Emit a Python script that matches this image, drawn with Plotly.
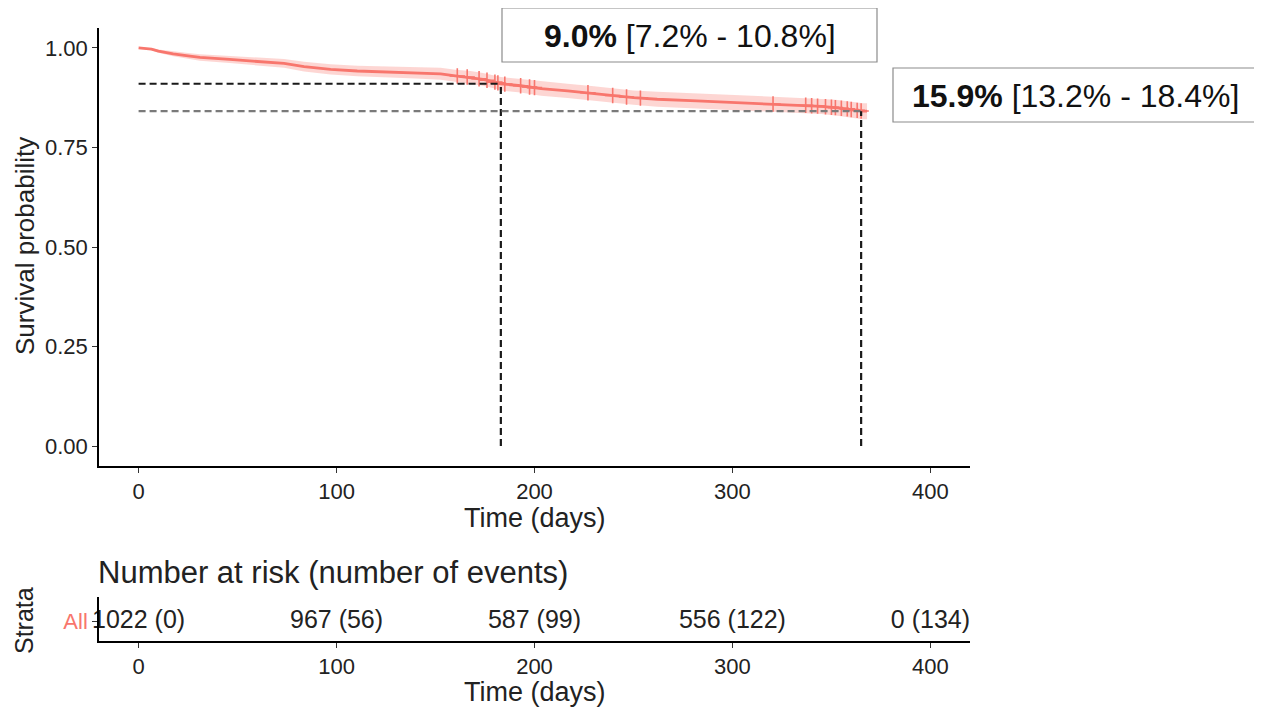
import numpy as np
import plotly.graph_objects as go

# ---------------- data ----------------
km_time = [0, 6.5, 10, 17.5, 25, 31, 46, 60, 73.5, 83.6, 97, 110.5, 125.6, 140, 152.6, 160, 167.7,
           174, 181, 183, 193, 203.3, 216.7, 230, 240, 250, 262, 282, 300, 320.6, 337, 345, 352,
           358, 363, 366, 368]
km_surv = [1.000, 0.997, 0.992, 0.985, 0.980, 0.976, 0.971, 0.965, 0.961, 0.953, 0.946, 0.942,
           0.939, 0.937, 0.935, 0.930, 0.926, 0.921, 0.913, 0.910, 0.905, 0.898, 0.892, 0.886,
           0.880, 0.875, 0.871, 0.867, 0.863, 0.859, 0.856, 0.853, 0.850, 0.847, 0.843, 0.841, 0.841]
km_lower = [1.000, 0.994, 0.988, 0.979, 0.973, 0.968, 0.962, 0.955, 0.950, 0.941, 0.933, 0.929,
            0.925, 0.923, 0.920, 0.915, 0.910, 0.905, 0.897, 0.893, 0.888, 0.880, 0.874, 0.868,
            0.862, 0.857, 0.852, 0.848, 0.844, 0.840, 0.837, 0.834, 0.830, 0.827, 0.823, 0.821, 0.821]
km_upper = [1.000, 1.000, 0.996, 0.991, 0.987, 0.984, 0.980, 0.975, 0.972, 0.965, 0.959, 0.955,
            0.953, 0.951, 0.950, 0.945, 0.942, 0.937, 0.929, 0.927, 0.922, 0.916, 0.910, 0.904,
            0.898, 0.893, 0.890, 0.886, 0.882, 0.878, 0.875, 0.872, 0.870, 0.867, 0.863, 0.861, 0.861]
censor_times = [161, 166, 172, 176, 180, 181.5, 185, 193, 197.5, 200, 227, 239.5, 246.5, 253.5,
                320.5, 337, 340, 343, 347, 350, 352, 355, 358, 360, 363, 365]

milestone_days = [183, 365]
cuminc_est = [9.0, 15.9]
cuminc_low = [7.2, 13.2]
cuminc_high = [10.8, 18.4]

risk_times = [0, 100, 200, 300, 400]
risk_n = [1022, 967, 587, 556, 0]
risk_events = [0, 56, 99, 122, 134]
strata_label = "All"

x_ticks = [0, 100, 200, 300, 400]
y_ticks = [0, 0.25, 0.5, 0.75, 1.0]

# ---------------- layout geometry (page has an 8px body margin) ----------------
OFF = 8
W, H = 1262 - OFF, 709 - OFF
L, T = 99 - OFF, 28 - OFF
R = W - (970 - OFF)
B = H - (641 - OFF)
PW, PH = W - L - R, H - T - B


def px_x(px):
    return (px - OFF - L) / PW


def px_y(py):
    return (H - B - (py - OFF)) / PH


RED = "#F8766D"
BAND = "rgba(248,118,109,0.30)"
FONT = "Liberation Sans, Arial, Helvetica, sans-serif"
TXT = "#222222"

fig = go.Figure()

# CI band
fig.add_trace(go.Scatter(x=km_time, y=km_lower, mode="lines", line=dict(width=0),
                         hoverinfo="skip", showlegend=False, xaxis="x", yaxis="y"))
fig.add_trace(go.Scatter(x=km_time, y=km_upper, mode="lines", line=dict(width=0),
                         fill="tonexty", fillcolor=BAND, hoverinfo="skip", showlegend=False,
                         xaxis="x", yaxis="y"))
# KM curve
fig.add_trace(go.Scatter(x=km_time, y=km_surv, mode="lines",
                         line=dict(color=RED, width=2.8),
                         showlegend=False, xaxis="x", yaxis="y"))
# censor marks placed on the curve
censor_surv = np.interp(censor_times, km_time, km_surv)
fig.add_trace(go.Scatter(x=censor_times, y=censor_surv, mode="markers",
                         marker=dict(symbol="cross-thin", size=11, line=dict(color=RED, width=1.6)),
                         showlegend=False, xaxis="x", yaxis="y"))

# risk table text
risk_text = [f"{n} ({e})" for n, e in zip(risk_n, risk_events)]
fig.add_trace(go.Scatter(x=risk_times, y=[strata_label] * len(risk_times), mode="text",
                         text=risk_text, textposition="middle center",
                         textfont=dict(family=FONT, size=25, color=TXT),
                         cliponaxis=False, showlegend=False, xaxis="x2", yaxis="y2"))

shapes = []
hcolors = ["#1a1a1a", "#7a7a7a"]
for d, ci, hc in zip(milestone_days, cuminc_est, hcolors):
    s = 1 - ci / 100
    shapes.append(dict(type="line", xref="x", yref="y", x0=0, x1=d, y0=s, y1=s,
                       line=dict(color=hc, width=2.2, dash="7px,4px")))
    shapes.append(dict(type="line", xref="x", yref="y", x0=d, x1=d, y0=0, y1=s,
                       line=dict(color="#1a1a1a", width=2.2, dash="7px,4px")))

# annotation boxes
box_px = [(502, 8, 877, 62), (893, 68, 1258, 122)]
annotations = []
for (bx0, by0, bx1, by1), e, lo, hi in zip(box_px, cuminc_est, cuminc_low, cuminc_high):
    shapes.append(dict(type="rect", xref="paper", yref="paper",
                       x0=px_x(bx0), x1=px_x(bx1), y0=px_y(by1), y1=px_y(by0),
                       line=dict(color="#8c8c8c", width=1.2), fillcolor="white", layer="above"))
    annotations.append(dict(xref="paper", yref="paper", x=px_x((bx0 + bx1) / 2),
                            y=px_y((by0 + by1) / 2 + 1), xanchor="center", yanchor="middle",
                            text=f"<b>{e:.1f}%</b> [{lo:.1f}% - {hi:.1f}%]", showarrow=False,
                            font=dict(family=FONT, size=32, color="#111111")))

# titles as annotations
annotations += [
    dict(xref="paper", yref="paper", x=px_x(25), y=px_y(246), text="Survival probability",
         textangle=-90, showarrow=False, xanchor="center", yanchor="middle",
         font=dict(family=FONT, size=26, color=TXT)),
    dict(xref="paper", yref="paper", x=px_x(535), y=px_y(518), text="Time (days)",
         showarrow=False, xanchor="center", yanchor="middle",
         font=dict(family=FONT, size=27, color=TXT)),
    dict(xref="paper", yref="paper", x=px_x(96), y=px_y(572),
         text="Number at risk (number of events)", showarrow=False, xanchor="left",
         yanchor="middle", font=dict(family=FONT, size=31, color=TXT)),
    dict(xref="paper", yref="paper", x=px_x(24), y=px_y(621), text="Strata",
         textangle=-90, showarrow=False, xanchor="center", yanchor="middle",
         font=dict(family=FONT, size=25, color=TXT)),
    dict(xref="paper", yref="paper", x=px_x(535), y=px_y(692), text="Time (days)",
         showarrow=False, xanchor="center", yanchor="middle",
         font=dict(family=FONT, size=27, color=TXT)),
]

axis_common = dict(showgrid=False, zeroline=False, showline=True, linecolor="black",
                   linewidth=1.6, ticks="outside", ticklen=5, tickwidth=1.3, tickcolor="#333333",
                   tickfont=dict(family=FONT, size=22, color=TXT))

fig.update_layout(
    width=W, height=H,
    margin=dict(l=L, r=R, t=T, b=B),
    paper_bgcolor="white", plot_bgcolor="white",
    showlegend=False,
    xaxis=dict(domain=[0, 1], range=[-20, 420], tickvals=x_ticks, anchor="y", **axis_common),
    yaxis=dict(domain=[px_y(466), 1], range=[-0.05, 1.05], tickvals=y_ticks, tickformat=".2f",
               anchor="x", **axis_common),
    xaxis2=dict(domain=[0, 1], range=[-20, 420], tickvals=x_ticks, anchor="y2", **axis_common),
    yaxis2=dict(domain=[0, px_y(597)], range=[-0.44, 0.56], type="category", anchor="x2",
                **{**axis_common, "tickfont": dict(family=FONT, size=22, color=RED)}),
    shapes=shapes,
    annotations=annotations,
)

fig.write_html("out.html")
